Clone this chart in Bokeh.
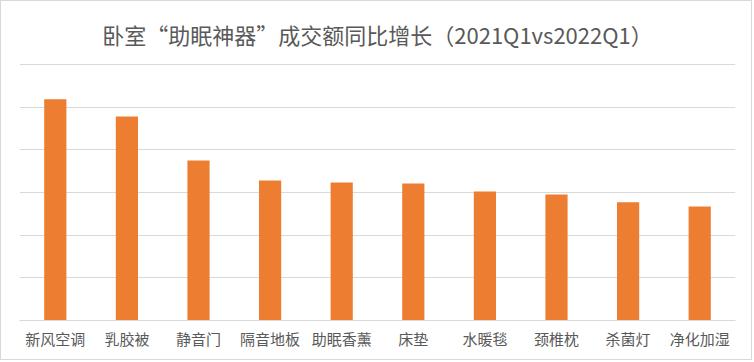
from bokeh.plotting import figure
from bokeh.models import ColumnDataSource, FixedTicker, Range1d
from bokeh.embed import file_html
from bokeh.resources import INLINE

categories = ["新风空调", "乳胶被", "静音门", "隔音地板", "助眠香薰", "床垫", "水暖毯", "颈椎枕", "杀菌灯", "净化加湿"]
growth = [259, 239, 187.5, 164, 161.5, 160.5, 151, 147.5, 138.5, 133.5]
y_ticks = [0, 50, 100, 150, 200, 250, 300]
title_text = "卧室“助眠神器”成交额同比增长（2021Q1vs2022Q1）"

W, H = 752, 360
ML, MR, MT, MB = 18, 18, 62, 41

source = ColumnDataSource(data=dict(cat=categories, val=growth))

p = figure(x_range=categories, y_range=Range1d(0, 301), width=W, height=H,
           output_backend="svg", toolbar_location=None, y_axis_location=None, title=title_text,
           min_border_left=ML, min_border_right=MR, min_border_top=MT, min_border_bottom=MB)
p.styles = {"border": "1px solid #d9d9d9"}

p.vbar(x="cat", top="val", width=0.31, source=source, color="#ED7D31", line_color=None)

p.title.align = "center"
p.title.text_font = "Noto Sans CJK SC, Liberation Serif"
p.title.text_font_size = "22px"
p.title.text_font_style = "normal"
p.title.text_color = "#595959"
p.title.standoff = 28

p.outline_line_color = None
p.xgrid.grid_line_color = None
p.ygrid.ticker = FixedTicker(ticks=y_ticks)
p.ygrid.grid_line_color = "#d9d9d9"
p.ygrid.grid_line_width = 1

p.xaxis.axis_line_color = "#d9d9d9"
p.xaxis.major_tick_line_color = None
p.xaxis.minor_tick_line_color = None
p.xaxis.major_label_text_font = "Noto Sans CJK SC"
p.xaxis.major_label_text_font_size = "15px"
p.xaxis.major_label_text_color = "#595959"
p.xaxis.major_label_standoff = 1

open("out.html", "w").write(file_html(p, INLINE))
